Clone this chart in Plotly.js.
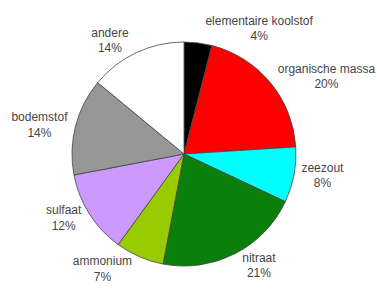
<!DOCTYPE html>
<html>
<head>
<meta charset="utf-8">
<script src="https://cdn.plot.ly/plotly-3.0.1.min.js"></script>
<style>html,body{margin:0;padding:0;background:#fff;}#chart{width:377px;height:289px;}</style>
</head>
<body>
<div id="chart"></div>
<script>
var labels = ["elementaire koolstof", "organische massa", "zeezout", "nitraat", "ammonium", "sulfaat", "bodemstof", "andere"];
var values = [4, 20, 8, 21, 7, 12, 14, 14];
var colors = ["#000000", "#ff0000", "#00ffff", "#0a7f0a", "#99cc00", "#cc99ff", "#969696", "#ffffff"];

var trace = {
  type: "pie",
  labels: labels,
  values: values,
  sort: false,
  direction: "clockwise",
  rotation: 0,
  marker: {colors: colors, line: {color: "#444444", width: 0.8}},
  texttemplate: "%{label}<br>%{value}%",
  textposition: "outside",
  outsidetextfont: {family: "Liberation Sans, Arial, sans-serif", size: 12, color: "#454545"},
  hoverinfo: "none",
  showlegend: false
};
var layout = {
  width: 377, height: 289,
  margin: {l: 72, r: 81, t: 42, b: 23},
  paper_bgcolor: "#ffffff",
  plot_bgcolor: "#ffffff",
  showlegend: false
};
Plotly.newPlot("chart", [trace], layout, {staticPlot: true, displayModeBar: false});
</script>
</body>
</html>
